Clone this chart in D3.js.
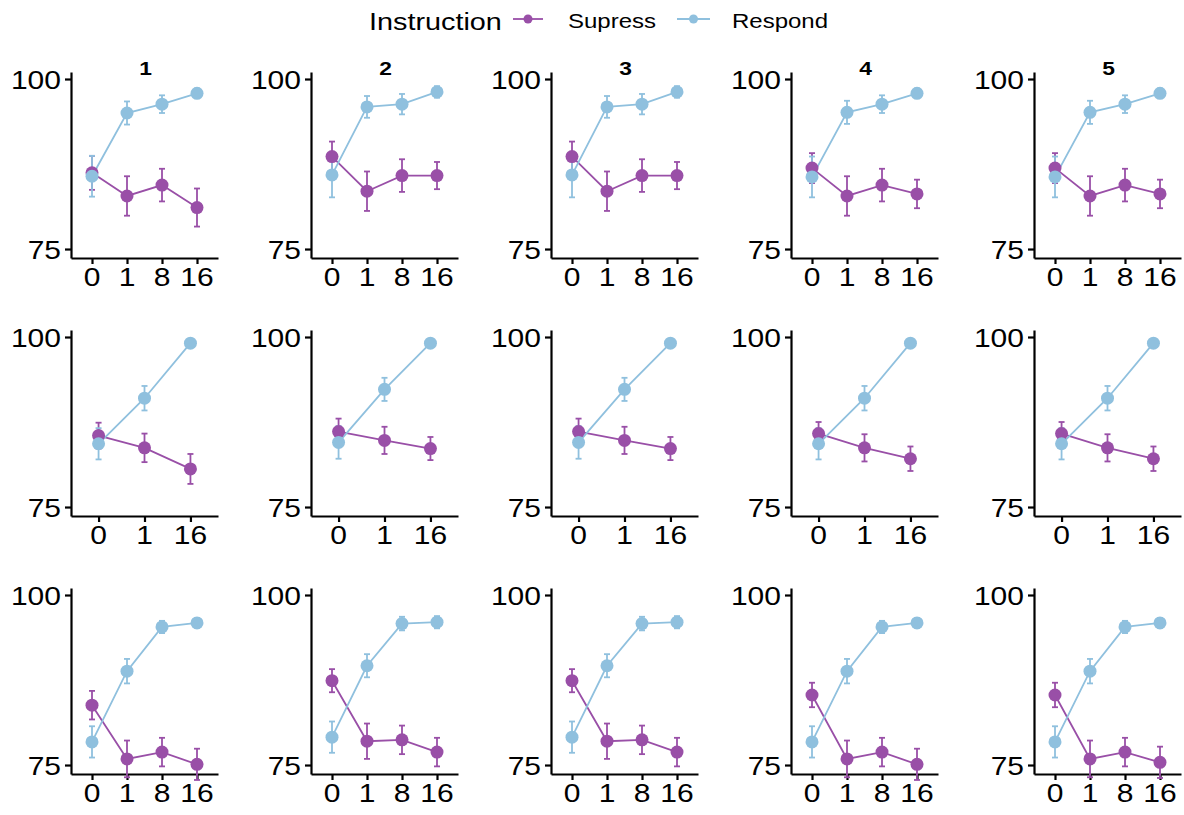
<!DOCTYPE html>
<html><head><meta charset="utf-8">
<script src="https://cdn.jsdelivr.net/npm/d3@7"></script>
<style>body{margin:0;background:#fff}svg{display:block}</style>
</head><body><svg id="c" width="1184" height="815"></svg>
<script>
// ---------- data ----------
const panelTitles = ["1", "2", "3", "4", "5"];
const seriesNames = ["Supress", "Respond"];
const yTicks = [75, 100];
const xLevels1 = ["0", "1", "8", "16"];
const xLevels2 = ["0", "1", "16"];
const xLevels3 = ["0", "1", "8", "16"];

// row 1
const supMean1 = [[86.2,82.8,84.4,81.1],[88.6,83.5,85.8,85.8],[88.6,83.5,85.8,85.8],[86.9,82.8,84.4,83.1],[86.9,82.8,84.4,83.1]];
const supErr1  = [[2.5,2.9,2.4,2.8],[2.2,2.9,2.4,2.0],[2.2,2.9,2.4,2.0],[2.2,2.9,2.4,2.1],[2.2,2.9,2.4,2.1]];
const resMean1 = [[85.7,95.0,96.3,97.9],[85.9,95.9,96.3,98.1],[85.9,95.9,96.3,98.1],[85.6,95.1,96.3,97.9],[85.6,95.1,96.3,97.9]];
const resErr1  = [[3.0,1.7,1.3,0.7],[3.3,1.6,1.5,0.85],[3.3,1.6,1.5,0.85],[3.0,1.7,1.3,0.7],[3.0,1.7,1.3,0.7]];
// row 2
const supMean2 = [[85.5,83.7,80.6],[86.1,84.8,83.6],[86.1,84.8,83.6],[85.8,83.7,82.1],[85.8,83.7,82.1]];
const supErr2  = [[1.9,2.1,2.2],[1.9,2.0,1.7],[1.9,2.0,1.7],[1.7,2.0,1.8],[1.7,2.0,1.8]];
const resMean2 = [[84.3,91.0,99.1],[84.5,92.3,99.1],[84.5,92.3,99.1],[84.3,91.0,99.1],[84.3,91.0,99.1]];
const resErr2  = [[2.3,1.8,0.3],[2.4,1.7,0.3],[2.4,1.7,0.3],[2.3,1.8,0.3],[2.3,1.8,0.3]];
// row 3
const supMean3 = [[83.8,75.9,76.9,75.1],[87.4,78.5,78.7,76.9],[87.4,78.5,78.7,76.9],[85.3,75.9,76.9,75.1],[85.3,75.9,76.9,75.4]];
const supErr3  = [[2.1,2.7,2.1,2.3],[1.7,2.6,2.1,2.1],[1.7,2.6,2.1,2.1],[1.8,2.7,2.1,2.3],[1.8,2.7,2.1,2.3]];
const resMean3 = [[78.4,88.8,95.3,95.9],[79.1,89.6,95.8,96.0],[79.1,89.6,95.8,96.0],[78.4,88.8,95.3,95.9],[78.4,88.8,95.3,95.9]];
const resErr3  = [[2.3,1.8,0.9,0.7],[2.3,1.7,1.0,0.9],[2.3,1.7,1.0,0.9],[2.3,1.8,0.9,0.7],[2.3,1.8,0.9,0.7]];

const rows = [
  {levels: xLevels1, sup: supMean1, supE: supErr1, res: resMean1, resE: resErr1},
  {levels: xLevels2, sup: supMean2, supE: supErr2, res: resMean2, resE: resErr2},
  {levels: xLevels3, sup: supMean3, supE: supErr3, res: resMean3, resE: resErr3}
];

// ---------- style / layout ----------
const colors = {Supress: "#994fa7", Respond: "#8fc0de"};
const FONT = "'Liberation Sans', Arial, sans-serif";
const SX = 1.2;
const colX = [71, 311, 551, 791, 1034];
const rowTop = [72, 330, 588];
const PW = 147, PH = 186;
const yDomain = [73.68, 101.03];

const svg = d3.select("#c");

function stext(g, x, y, str, size, anchor, weight) {
  return g.append("text")
    .attr("transform", `translate(${x},${y}) scale(${SX},1)`)
    .attr("text-anchor", anchor)
    .attr("font-family", FONT)
    .attr("font-size", size)
    .attr("font-weight", weight || "normal")
    .attr("fill", "#000")
    .text(str);
}

rows.forEach((row, ri) => {
  panelTitles.forEach((title, ci) => {
    const g = svg.append("g").attr("transform", `translate(${colX[ci]},${rowTop[ri]})`);
    const x = d3.scalePoint().domain(row.levels).range([0, PW]).padding(0.6);
    const y = d3.scaleLinear().domain(yDomain).range([PH, 0]);

    // axes
    const ya = g.append("g").call(d3.axisLeft(y).tickValues(yTicks).tickSize(6).tickSizeOuter(0).tickFormat(""));
    const xa = g.append("g").attr("transform", `translate(0,${PH})`)
      .call(d3.axisBottom(x).tickSize(6).tickSizeOuter(0).tickFormat(""));
    [ya, xa].forEach(a => {
      a.select(".domain").attr("stroke", "#000").attr("stroke-width", 2.2);
      a.selectAll(".tick line").attr("stroke", "#000").attr("stroke-width", 2.2);
    });
    yTicks.forEach(t => stext(g, -10, y(t) + 9.5, String(t), 25, "end"));
    row.levels.forEach(l => stext(g, x(l), PH + 27.5, l, 25, "middle"));

    if (ri === 0) stext(g, PW / 2 + 1, 3, title, 19, "middle", "bold");

    const series = [
      {name: "Supress", m: row.sup[ci], e: row.supE[ci]},
      {name: "Respond", m: row.res[ci], e: row.resE[ci]}
    ];
    const pts = s => row.levels.map((l, i) => ({l, v: s.m[i], e: s.e[i]}));
    // error bars
    series.forEach(s => {
      const eg = g.append("g").attr("stroke", colors[s.name]).attr("stroke-width", 1.8).attr("fill", "none");
      pts(s).forEach(p => {
        const cx = x(p.l), y1 = y(p.v + p.e), y2 = y(p.v - p.e);
        eg.append("line").attr("x1", cx).attr("x2", cx).attr("y1", y1).attr("y2", y2);
        eg.append("line").attr("x1", cx - 3).attr("x2", cx + 3).attr("y1", y1).attr("y2", y1);
        eg.append("line").attr("x1", cx - 3).attr("x2", cx + 3).attr("y1", y2).attr("y2", y2);
      });
    });
    // lines
    const line = d3.line().x(p => x(p.l)).y(p => y(p.v));
    series.forEach(s => {
      g.append("path").datum(pts(s)).attr("d", line)
        .attr("fill", "none").attr("stroke", colors[s.name]).attr("stroke-width", 1.8);
    });
    // points
    series.forEach(s => {
      g.append("g").selectAll("circle").data(pts(s)).join("circle")
        .attr("cx", p => x(p.l)).attr("cy", p => y(p.v)).attr("r", 6.5)
        .attr("fill", colors[s.name]);
    });
  });
});

// ---------- legend ----------
const lg = svg.append("g");
stext(lg, 369, 30, "Instruction", 24, "start");
const keys = [{name: "Supress", x1: 513, x2: 543, tx: 568}, {name: "Respond", x1: 677, x2: 710, tx: 732}];
keys.forEach(k => {
  lg.append("line").attr("x1", k.x1).attr("x2", k.x2).attr("y1", 19).attr("y2", 19)
    .attr("stroke", colors[k.name]).attr("stroke-width", 1.8);
  lg.append("circle").attr("cx", (k.x1 + k.x2) / 2).attr("cy", 19).attr("r", 4.5).attr("fill", colors[k.name]);
  stext(lg, k.tx, 28, k.name, 20, "start");
});
</script></body></html>
